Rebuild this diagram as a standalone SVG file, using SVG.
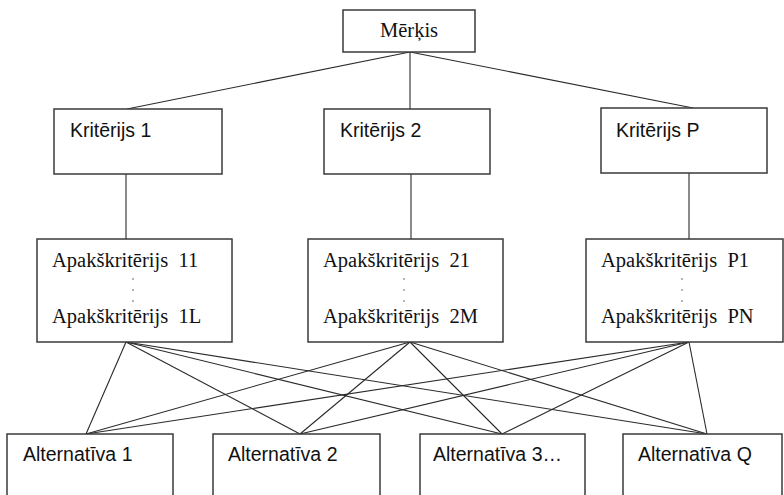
<svg xmlns="http://www.w3.org/2000/svg" width="784" height="495" viewBox="0 0 784 495">
<style>
.box{fill:#fff;stroke:#3a3a3a;stroke-width:1.5}
.ln{stroke:#2a2a2a;stroke-width:1.1;fill:none}
.serif{font-family:"Liberation Serif","Times New Roman",serif;font-size:20.5px;fill:#111}
.sans{font-family:"Liberation Sans",Arial,sans-serif;font-size:19.5px;fill:#111}
.dot{fill:#555}
</style>
<rect width="784" height="495" fill="#fff"/>
<g id="connectors">
<line class="ln" x1="410" y1="52" x2="127" y2="109"/>
<line class="ln" x1="410" y1="52" x2="410" y2="109"/>
<line class="ln" x1="410" y1="52" x2="693" y2="108"/>
<line class="ln" x1="126" y1="174" x2="126" y2="239"/>
<line class="ln" x1="411" y1="174" x2="411" y2="239"/>
<line class="ln" x1="689" y1="173" x2="689" y2="239"/>
<line class="ln" x1="126" y1="342" x2="86" y2="434"/>
<line class="ln" x1="126" y1="342" x2="300" y2="434"/>
<line class="ln" x1="126" y1="342" x2="502" y2="434"/>
<line class="ln" x1="126" y1="342" x2="707" y2="434"/>
<line class="ln" x1="410" y1="342" x2="86" y2="434"/>
<line class="ln" x1="410" y1="342" x2="300" y2="434"/>
<line class="ln" x1="410" y1="342" x2="502" y2="434"/>
<line class="ln" x1="410" y1="342" x2="707" y2="434"/>
<line class="ln" x1="689" y1="342" x2="86" y2="434"/>
<line class="ln" x1="689" y1="342" x2="300" y2="434"/>
<line class="ln" x1="689" y1="342" x2="502" y2="434"/>
<line class="ln" x1="689" y1="342" x2="707" y2="434"/>
</g>
<g id="merkis">
<rect class="box" x="343" y="10" width="132" height="42"/>
<text class="serif" x="380" y="37">Mērķis</text>
</g>
<g id="kriterijs1">
<rect class="box" x="54" y="109" width="168" height="65"/>
<text class="sans" x="70" y="137">Kritērijs 1</text>
</g>
<g id="kriterijs2">
<rect class="box" x="324" y="109" width="166" height="65"/>
<text class="sans" x="340" y="137">Kritērijs 2</text>
</g>
<g id="kriterijsP">
<rect class="box" x="601" y="108" width="166" height="65"/>
<text class="sans" x="616" y="137">Kritērijs P</text>
</g>
<g id="apakskriterijs1">
<rect class="box" x="37" y="239" width="195" height="103"/>
<text class="serif" x="52" y="267">Apakškritērijs&#160; 11</text>
<circle class="dot" cx="133" cy="279" r="0.8"/><circle class="dot" cx="133" cy="290" r="0.8"/><circle class="dot" cx="133" cy="301" r="0.8"/>
<text class="serif" x="52" y="323">Apakškritērijs&#160; 1L</text>
</g>
<g id="apakskriterijs2">
<rect class="box" x="308" y="239" width="195" height="103"/>
<text class="serif" x="323" y="267">Apakškritērijs&#160; 21</text>
<circle class="dot" cx="404" cy="279" r="0.8"/><circle class="dot" cx="404" cy="290" r="0.8"/><circle class="dot" cx="404" cy="301" r="0.8"/>
<text class="serif" x="323" y="323">Apakškritērijs&#160; 2M</text>
</g>
<g id="apakskriterijsP">
<rect class="box" x="586" y="239" width="197" height="103"/>
<text class="serif" x="601" y="267">Apakškritērijs&#160; P1</text>
<circle class="dot" cx="682" cy="279" r="0.8"/><circle class="dot" cx="682" cy="290" r="0.8"/><circle class="dot" cx="682" cy="301" r="0.8"/>
<text class="serif" x="601" y="323">Apakškritērijs&#160; PN</text>
</g>
<g id="alt1">
<rect class="box" x="7" y="434" width="166" height="70"/>
<text class="sans" x="23" y="461">Alternatīva 1</text>
</g>
<g id="alt2">
<rect class="box" x="213" y="434" width="167" height="70"/>
<text class="sans" x="228" y="461">Alternatīva 2</text>
</g>
<g id="alt3">
<rect class="box" x="420" y="434" width="165" height="70"/>
<text class="sans" x="433" y="461">Alternatīva 3…</text>
</g>
<g id="altQ">
<rect class="box" x="623" y="434" width="159" height="70"/>
<text class="sans" x="638" y="461">Alternatīva Q</text>
</g>
</svg>
